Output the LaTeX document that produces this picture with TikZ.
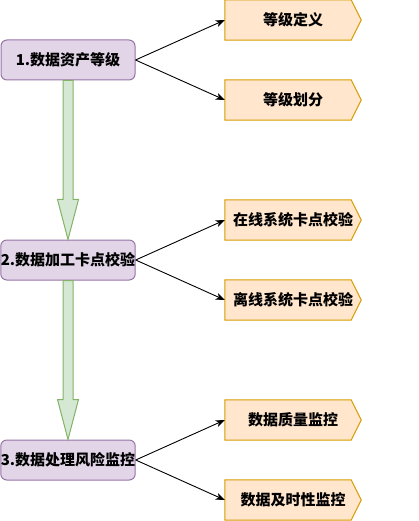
\documentclass[tikz,border=0pt]{standalone}
\usepackage{fontspec}
\setmainfont{Noto Sans CJK SC}
\usetikzlibrary{arrows.meta,calc,backgrounds}
\definecolor{pfill}{HTML}{E1D5E7}
\definecolor{pline}{HTML}{9673A6}
\definecolor{ofill}{HTML}{FFE6CC}
\definecolor{oline}{HTML}{D79B00}
\definecolor{gfill}{HTML}{D5E8D4}
\definecolor{gline}{HTML}{82B366}
\begin{document}
\begin{tikzpicture}[x=1pt,y=-1pt,
  stagebox/.style={draw=pline,fill=pfill,line width=1pt,rounded corners=6pt,
    minimum width=134pt,minimum height=40pt,inner sep=0pt,
    font=\fontsize{15pt}{18pt}\selectfont\bfseries},
  pentbox/.style={minimum width=136pt,minimum height=40pt,inner sep=0pt,
    font=\fontsize{15pt}{18pt}\selectfont\bfseries},
  pentline/.style={draw=oline,fill=ofill,line width=1pt},
  link/.style={draw=black,line width=0.9pt,-{Stealth[length=9pt,width=7pt,inset=2.5pt]}},
  flow/.style={draw=gline,fill=gfill,line width=1pt}]
\useasboundingbox (0,0) rectangle (419,521);

\node[stagebox] (p1) at (68,60) {1.数据资产等级};
\node[stagebox] (p2) at (68,260) {2.数据加工卡点校验};
\node[stagebox] (p3) at (68,460) {3.数据处理风险监控};

\node[pentbox] (d1) at (293,20) {等级定义};
\node[pentbox] (d2) at (293,100) {等级划分};
\node[pentbox] (d3) at (293,220) {在线系统卡点校验};
\node[pentbox] (d4) at (293,300) {离线系统卡点校验};
\node[pentbox] (d5) at (293,420) {数据质量监控};
\node[pentbox] (d6) at (293,500) {数据及时性监控};

\begin{scope}[on background layer]
\foreach \n in {d1,d2,d3,d4,d5,d6}{
  \path[pentline] (\n.north west) -- ($(\n.north east)+(-10,0)$) -- (\n.east)
     -- ($(\n.south east)+(-10,0)$) -- (\n.south west) -- cycle;
}
\end{scope}

\foreach \a/\b in {p1/p2,p2/p3}{
  \path[flow] ($(\a.south)+(-5,0)$) -- ($(\a.south)+(5,0)$) -- ($(\b.north)+(5,-40)$)
    -- ($(\b.north)+(10.5,-40)$) -- (\b.north) -- ($(\b.north)+(-10.5,-40)$)
    -- ($(\b.north)+(-5,-40)$) -- cycle;
}

\draw[link] (p1.east) -- (d1.west);
\draw[link] (p1.east) -- (d2.west);
\draw[link] (p2.east) -- (d3.west);
\draw[link] (p2.east) -- (d4.west);
\draw[link] (p3.east) -- (d5.west);
\draw[link] (p3.east) -- (d6.west);
\end{tikzpicture}
\end{document}
